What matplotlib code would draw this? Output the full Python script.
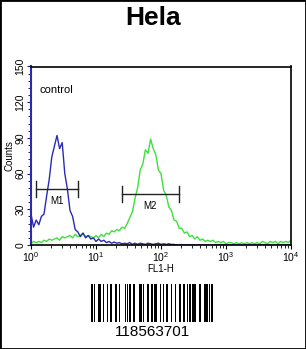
# flow cytometry histogram, Hela, control vs antibody
import numpy as np
import matplotlib
matplotlib.use('Agg')
import matplotlib.pyplot as plt
from matplotlib.patches import Rectangle
from matplotlib.ticker import MultipleLocator, FixedLocator, NullFormatter

plt.rcParams['font.family'] = ['Liberation Sans', 'DejaVu Sans']
plt.rcParams['mathtext.fontset'] = 'custom'
plt.rcParams['mathtext.rm'] = 'Liberation Sans'
plt.rcParams['mathtext.it'] = 'Liberation Sans'

# counts per log-channel, 0.04 decade steps starting at 10^0
step = 0.04
control_counts = [26, 15, 21, 17, 24, 26, 41, 55, 74, 83,
                  92, 81, 86, 60, 47, 29, 24, 13, 11, 7,
                  10, 6, 8, 5, 6, 3, 5, 3, 4, 2,
                  3, 1.5, 2.5, 1.5, 2, 1, 1.5, 1, 2, 0.5,
                  1.5, 0.5, 1.5, 1, 0.5, 1.5, 1, 0.5, 1, 1.5,
                  0.5, 1, 0.5, 1, 0.5, 0.5] + [0] * 45
sample_counts = [1, 3, 2, 3, 2, 4, 3, 5, 4, 5,
                 6, 4, 7, 6, 7, 8, 6, 9, 7, 8,
                 10, 7, 8, 7, 6, 8, 6, 9, 7, 10,
                 9, 12, 11, 13, 12, 15, 14, 18, 23, 28,
                 39, 48, 63, 68, 80, 77, 89, 81, 76, 63,
                 60, 46, 42, 32, 29, 21, 20, 14, 14, 10,
                 11, 7, 8, 5, 7, 4, 5, 3, 4, 3,
                 4, 2, 3, 2, 3, 1, 2, 2, 1, 2,
                 1, 2, 1, 2, 1, 2, 1, 2, 1, 3,
                 2, 1, 3, 2, 3, 1, 3, 2, 3, 2, 4]

# gates
m1_range = (1.2, 5.3)
m1_y = 47
m2_range = (24.8, 189)
m2_y = 43

barcode_text = '118563701'
barcode_symbols = ['211232', '131123', '221411', '112214', '311222',
                   '213212', '122213', '132122', '112133', '2331112']

fig = plt.figure(figsize=(3.06, 3.49), dpi=100)
fig.patches.append(Rectangle((0, 0), 1, 1, transform=fig.transFigure,
                             fill=False, edgecolor='black', linewidth=2))

fig.text(0.5, 1 - 18 / 349, 'Hela', ha='center', va='center',
         fontsize=19, fontweight='bold')

ax = fig.add_axes([31 / 306, 1 - 245 / 349, 260 / 306, 178.5 / 349])

x_c = 10 ** (np.arange(len(control_counts)) * step)
x_s = 10 ** (np.arange(len(sample_counts)) * step)
ax.plot(x_s, sample_counts, color='#3ee03e', linewidth=1.0)
ax.plot(x_c, control_counts, color='#2a2ab4', linewidth=1.0)

ax.set_xscale('log')
ax.set_xlim(1, 1e4)
ax.set_ylim(0, 150)

ax.xaxis.set_major_locator(FixedLocator([1, 10, 100, 1000, 10000]))
ax.set_xticklabels(['$10^0$', '$10^1$', '$10^2$', '$10^3$', '$10^4$'])
minors = [m * 10 ** d for d in range(4) for m in range(2, 10)]
ax.xaxis.set_minor_locator(FixedLocator(minors))
ax.xaxis.set_minor_formatter(NullFormatter())
ax.yaxis.set_major_locator(MultipleLocator(30))
ax.yaxis.set_minor_locator(MultipleLocator(6))
for lab in ax.get_yticklabels():
    lab.set_rotation(90)
    lab.set_va('center')
ax.tick_params(axis='both', which='major', labelsize=7.5, length=3, width=0.8, pad=1)
ax.tick_params(axis='both', which='minor', length=2, width=0.6)
ax.tick_params(axis='y', colors='#1a1a8c', labelcolor='black')

for s in ['top', 'right', 'bottom']:
    ax.spines[s].set_linewidth(1.2)
ax.spines['left'].set_linewidth(1.5)
ax.spines['left'].set_color('#2a2ab4')

ax.set_xlabel('FL1-H', fontsize=7, labelpad=0)
ax.set_ylabel('Counts', fontsize=7, labelpad=1)

ax.text(1.33, 130, 'control', fontsize=8, va='center')

# marker gates
for (lo, hi), y, name in [(m1_range, m1_y, 'M1'), (m2_range, m2_y, 'M2')]:
    ax.plot([lo, hi], [y, y], color='#222222', linewidth=1.0)
    ax.plot([lo, lo], [y - 7, y + 7], color='#222222', linewidth=1.0)
    ax.plot([hi, hi], [y - 7, y + 7], color='#222222', linewidth=1.0)
    ax.text(np.sqrt(lo * hi), y - 10, name, fontsize=7, ha='center', va='center')

# barcode
bax = fig.add_axes([91 / 306, 1 - 322 / 349, 122 / 306, 38 / 349])
pos = 0
for sym in barcode_symbols:
    for i, w in enumerate(sym):
        w = int(w)
        if i % 2 == 0:
            bax.bar(pos, 1, width=w, align='edge', color='black', linewidth=0)
        pos += w
bax.set_xlim(0, pos)
bax.set_ylim(0, 1)
bax.axis('off')
fig.text(153 / 306, 1 - 332 / 349, barcode_text, ha='center', va='center', fontsize=11)

plt.savefig('out.png', dpi=100)
